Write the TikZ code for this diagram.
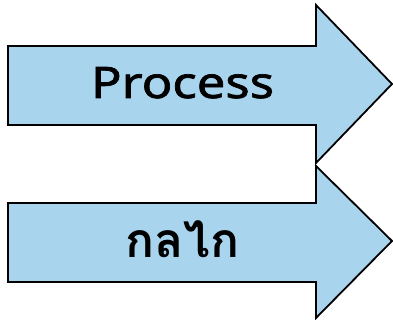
\documentclass[tikz,border=0pt]{standalone}
\usepackage{fontspec}
\setmainfont{Noto Sans}
\newfontfamily\procfont{Noto Sans}[FakeBold=1.6, FakeStretch=1.17]
\newfontfamily\thaifont[Script=Thai]{Loma}
\definecolor{arrowfill}{RGB}{169,212,238}
\tikzset{
  bigarrow/.style={draw=black, fill=arrowfill, line width=1.8pt, line join=miter},
  label/.style={inner sep=0pt, anchor=base, text=black}
}
\begin{document}
\begin{tikzpicture}[x=1pt,y=1pt]
\useasboundingbox (0,0) rectangle (393,320);
% top arrow (px y flipped: y = 320 - py)
\draw[bigarrow] (8,274) -- (316,274) -- (316,315) -- (392,236) -- (316,157) -- (316,195) -- (8,195) -- cycle;
% bottom arrow
\draw[bigarrow] (8,117) -- (316,117) -- (316,154) -- (392,79) -- (316,2) -- (316,38) -- (8,38) -- cycle;
\node[label, font=\procfont\fontsize{43.4}{50}\selectfont] (process) at (182.5,222) {Process};
\node[label, font=\thaifont\bfseries\fontsize{48}{54}\selectfont] (thai) at (182.5,62) {กลไก};
\end{tikzpicture}
\end{document}
